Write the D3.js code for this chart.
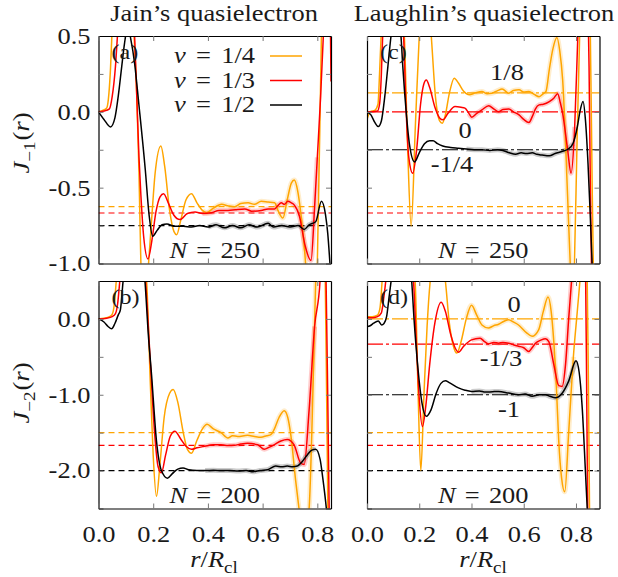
<!DOCTYPE html>
<html>
<head>
<meta charset="utf-8">
<script src="https://cdn.jsdelivr.net/npm/d3@7"></script>
<style>
  body { margin: 0; background: #fff; }
  text { font-family: "Liberation Serif", "DejaVu Serif", serif; fill: #1a1a1a; }
</style>
</head>
<body>
<svg id="chart" width="618" height="577"></svg>
<script>

// ---- values ---------------------------------------------------------------

var nuLabels = ["1/4", "1/3", "1/2"];
var xTicks = [0, 0.2, 0.4, 0.6, 0.8];
var yTicksJ1 = [-1, -0.75, -0.5, -0.25, 0, 0.25, 0.5];
var yLabelsJ1 = [-1, -0.5, 0, 0.5];
var yTicksJ2 = [-2.5, -2, -1.5, -1, -0.5, 0, 0.5];
var yLabelsJ2 = [-2, -1, 0];

// (a) Jain, J_-1(r), N = 250   -- [r/Rcl, J]
var jainJ1_q4 = [[0,0],[0.015,0.01],[0.03,0.025],[0.038,0.12],[0.044,0.29],[0.05,0.55],[0.07,1.0],[0.1,1.1],[0.12,0.8],[0.13,0.5],[0.14,0.1],[0.148,-0.4],[0.155,-1.0],[0.168,-1.35],[0.183,-1.0],[0.195,-0.69],[0.207,-0.405],[0.228,-0.225],[0.242,-0.36],[0.26,-0.65],[0.276,-0.79],[0.286,-0.81],[0.3,-0.72],[0.32,-0.58],[0.34,-0.54],[0.36,-0.6],[0.38,-0.65],[0.395,-0.665],[0.42,-0.635],[0.45,-0.61],[0.475,-0.62],[0.498,-0.625],[0.52,-0.605],[0.547,-0.6],[0.57,-0.61],[0.595,-0.59],[0.62,-0.595],[0.644,-0.6],[0.656,-0.65],[0.674,-0.7],[0.69,-0.58],[0.705,-0.47],[0.716,-0.45],[0.728,-0.52],[0.741,-0.69],[0.757,-1.0],[0.778,-1.8],[0.8,-1.0],[0.815,0.5],[0.83,1.8],[0.85,2.5]];
var jainJ1_q3 = [[0,0],[0.02,0.005],[0.04,0.02],[0.05,0.1],[0.062,0.3],[0.07,0.52],[0.09,0.95],[0.11,1.0],[0.125,0.7],[0.132,0.5],[0.14,0.1],[0.148,-0.3],[0.155,-0.55],[0.165,-0.82],[0.181,-0.97],[0.195,-0.85],[0.21,-0.66],[0.225,-0.56],[0.238,-0.54],[0.255,-0.6],[0.275,-0.68],[0.298,-0.71],[0.325,-0.67],[0.353,-0.66],[0.38,-0.67],[0.413,-0.665],[0.44,-0.65],[0.474,-0.65],[0.5,-0.645],[0.535,-0.64],[0.56,-0.655],[0.595,-0.65],[0.62,-0.64],[0.644,-0.64],[0.655,-0.62],[0.668,-0.6],[0.68,-0.61],[0.692,-0.59],[0.705,-0.6],[0.716,-0.615],[0.735,-0.69],[0.755,-0.88],[0.777,-0.98],[0.79,-0.63],[0.8,-0.3],[0.812,0.1],[0.822,0.5],[0.835,1.1],[0.846,0.9],[0.85,0.2]];
var jainJ1_q2 = [[0,0],[0.02,-0.05],[0.044,-0.1],[0.06,-0.04],[0.072,0.1],[0.085,0.3],[0.095,0.45],[0.107,0.56],[0.118,0.48],[0.132,0.32],[0.147,0.06],[0.171,-0.38],[0.185,-0.68],[0.198,-0.82],[0.215,-0.78],[0.232,-0.745],[0.25,-0.74],[0.28,-0.755],[0.31,-0.755],[0.34,-0.76],[0.37,-0.75],[0.4,-0.76],[0.43,-0.745],[0.46,-0.765],[0.49,-0.75],[0.52,-0.765],[0.55,-0.745],[0.58,-0.76],[0.62,-0.735],[0.64,-0.76],[0.67,-0.75],[0.7,-0.76],[0.73,-0.75],[0.752,-0.775],[0.77,-0.745],[0.794,-0.725],[0.815,-0.59],[0.83,-0.68],[0.838,-0.8],[0.848,-1.05],[0.86,-1.4]];
var jainJ1Dashed = [-0.625, -0.667, -0.75];

// (c) Laughlin, J_-1(r), N = 250
var laughJ1_q4 = [[0,-0.05],[0.012,0.0],[0.03,0.01],[0.042,0.05],[0.048,0.25],[0.054,0.5],[0.075,1.0],[0.11,1.1],[0.135,0.7],[0.143,0.5],[0.155,-0.2],[0.169,-0.753],[0.185,-0.1],[0.2,0.5],[0.225,0.95],[0.246,0.5],[0.262,0.1],[0.278,-0.06],[0.288,-0.075],[0.3,-0.02],[0.315,0.12],[0.334,0.222],[0.35,0.19],[0.37,0.135],[0.391,0.112],[0.415,0.125],[0.44,0.134],[0.46,0.12],[0.478,0.123],[0.5,0.14],[0.517,0.15],[0.543,0.123],[0.56,0.14],[0.582,0.145],[0.6,0.13],[0.62,0.134],[0.64,0.115],[0.659,0.1],[0.675,0.12],[0.685,0.134],[0.698,0.28],[0.711,0.41],[0.727,0.49],[0.738,0.4],[0.749,0.21],[0.768,-0.56],[0.778,-1.0],[0.786,-1.2],[0.794,-1.0],[0.804,-0.2],[0.814,0.5],[0.835,1.3],[0.855,0.5],[0.862,-0.5],[0.868,-1.2]];
var laughJ1_q3 = [[0,0],[0.02,0.0],[0.04,0.005],[0.048,0.05],[0.055,0.25],[0.06,0.5],[0.08,0.9],[0.11,0.95],[0.13,0.7],[0.14,0.5],[0.15,0.0],[0.16,-0.3],[0.175,-0.405],[0.19,-0.25],[0.205,0.05],[0.217,0.18],[0.227,0.21],[0.24,0.16],[0.26,0.03],[0.278,-0.04],[0.291,-0.053],[0.31,-0.01],[0.337,0.035],[0.36,0.03],[0.375,0.024],[0.39,-0.01],[0.401,-0.035],[0.42,-0.01],[0.44,0.013],[0.466,0.04],[0.485,0.02],[0.504,0.0],[0.52,0.015],[0.543,0.018],[0.56,0.0],[0.582,-0.02],[0.6,-0.05],[0.62,-0.07],[0.633,-0.03],[0.645,0.02],[0.659,0.046],[0.675,0.05],[0.698,0.068],[0.715,0.09],[0.73,0.12],[0.74,0.06],[0.749,-0.01],[0.768,-0.25],[0.781,-0.405],[0.795,-0.1],[0.807,0.5],[0.825,1.4],[0.845,0.8],[0.85,0.3],[0.855,-0.5],[0.86,-1.1]];
var laughJ1_q2 = [[0,0],[0.015,-0.02],[0.03,-0.07],[0.043,-0.097],[0.055,-0.06],[0.068,0.1],[0.08,0.3],[0.092,0.5],[0.105,0.65],[0.12,0.62],[0.13,0.5],[0.137,0.3],[0.15,0.0],[0.163,-0.22],[0.182,-0.33],[0.2,-0.27],[0.22,-0.21],[0.24,-0.19],[0.253,-0.19],[0.27,-0.21],[0.29,-0.225],[0.32,-0.235],[0.35,-0.24],[0.38,-0.245],[0.41,-0.25],[0.44,-0.25],[0.47,-0.255],[0.5,-0.25],[0.52,-0.255],[0.545,-0.27],[0.569,-0.28],[0.59,-0.27],[0.61,-0.275],[0.633,-0.27],[0.65,-0.28],[0.67,-0.285],[0.698,-0.29],[0.72,-0.275],[0.749,-0.26],[0.77,-0.245],[0.788,-0.21],[0.805,-0.1],[0.815,0.0],[0.827,0.068],[0.836,-0.05],[0.846,-0.34],[0.855,-0.7],[0.863,-1.05],[0.875,-1.5]];
var laughJ1Dashed = [-0.625, -0.667, -0.75];
var laughJ1DashDot = [0.125, 0, -0.25];
var laughJ1Notes = ["1/8", "0", "-1/4"];

// (b) Jain, J_-2(r), N = 200
var jainJ2_q4 = [[0,0],[0.02,0.01],[0.04,0.03],[0.05,0.06],[0.058,0.2],[0.065,0.5],[0.1,1.5],[0.15,1.3],[0.176,0.5],[0.19,-0.9],[0.2,-1.8],[0.212,-2.34],[0.225,-1.9],[0.24,-1.3],[0.26,-0.98],[0.273,-0.93],[0.29,-1.1],[0.31,-1.5],[0.325,-1.72],[0.34,-1.77],[0.36,-1.6],[0.38,-1.45],[0.397,-1.39],[0.42,-1.45],[0.448,-1.5],[0.473,-1.57],[0.49,-1.54],[0.509,-1.55],[0.545,-1.535],[0.57,-1.55],[0.594,-1.56],[0.615,-1.54],[0.63,-1.526],[0.642,-1.46],[0.66,-1.3],[0.679,-1.21],[0.692,-1.3],[0.703,-1.53],[0.721,-2.14],[0.733,-2.5],[0.75,-3.0],[0.77,-2.5],[0.785,-0.8],[0.794,0.5],[0.815,1.8],[0.829,0.5],[0.834,-1.0],[0.84,-3.0]];
var jainJ2_q3 = [[0,0],[0.03,0.01],[0.05,0.03],[0.062,0.07],[0.07,0.2],[0.078,0.5],[0.11,1.4],[0.15,1.2],[0.172,0.5],[0.19,-0.6],[0.205,-1.5],[0.218,-1.95],[0.23,-2.03],[0.245,-1.8],[0.262,-1.55],[0.279,-1.48],[0.3,-1.58],[0.32,-1.68],[0.34,-1.72],[0.36,-1.7],[0.388,-1.68],[0.42,-1.66],[0.448,-1.66],[0.475,-1.67],[0.497,-1.667],[0.52,-1.65],[0.545,-1.64],[0.582,-1.66],[0.606,-1.72],[0.625,-1.69],[0.642,-1.66],[0.667,-1.61],[0.69,-1.59],[0.715,-1.66],[0.739,-1.9],[0.752,-1.92],[0.77,-1.2],[0.79,-0.1],[0.81,0.5],[0.822,1.5],[0.832,0.5],[0.838,-1.0],[0.845,-3.0]];
var jainJ2_q2 = [[0,0],[0.02,-0.04],[0.035,-0.1],[0.048,-0.13],[0.06,-0.06],[0.072,0.05],[0.08,0.12],[0.09,0.5],[0.12,1.3],[0.155,1.0],[0.17,0.49],[0.182,-0.2],[0.194,-0.74],[0.212,-1.61],[0.23,-2.0],[0.252,-2.1],[0.27,-2.04],[0.29,-1.98],[0.309,-1.965],[0.33,-1.99],[0.36,-2.0],[0.39,-2.0],[0.42,-1.995],[0.45,-2.0],[0.48,-2.0],[0.51,-2.005],[0.54,-2.0],[0.565,-2.015],[0.59,-2.0],[0.618,-1.99],[0.648,-1.94],[0.67,-1.95],[0.69,-1.94],[0.71,-1.95],[0.727,-1.94],[0.745,-1.88],[0.764,-1.79],[0.78,-1.73],[0.794,-1.72],[0.81,-1.85],[0.82,-2.1],[0.833,-2.5],[0.845,-3.0]];
var jainJ2Dashed = [-1.5, -1.667, -2];

// (d) Laughlin, J_-2(r), N = 200
var laughJ2_q4 = [[0,0.03],[0.02,0.03],[0.04,0.05],[0.05,0.15],[0.058,0.5],[0.09,1.4],[0.14,1.3],[0.184,0.5],[0.195,-0.9],[0.206,-2.0],[0.218,-1.0],[0.23,-0.1],[0.242,0.5],[0.27,1.0],[0.3,0.5],[0.315,-0.05],[0.33,-0.35],[0.344,-0.45],[0.36,-0.3],[0.38,0.0],[0.4,0.18],[0.42,0.05],[0.44,-0.08],[0.465,-0.12],[0.485,-0.09],[0.504,-0.07],[0.525,-0.03],[0.542,-0.01],[0.56,-0.04],[0.58,-0.08],[0.61,-0.18],[0.632,-0.23],[0.657,-0.145],[0.675,0.1],[0.693,0.29],[0.705,0.1],[0.715,-0.3],[0.725,-0.9],[0.734,-1.61],[0.745,-2.1],[0.757,-2.28],[0.772,-1.5],[0.79,-0.5],[0.805,0.1],[0.815,0.5],[0.83,1.3],[0.843,0.5],[0.848,-1.0],[0.852,-2.6]];
var laughJ2_q3 = [[0,0.02],[0.02,0.015],[0.04,0.03],[0.055,0.08],[0.065,0.3],[0.072,0.5],[0.1,1.3],[0.14,1.4],[0.178,0.5],[0.19,-0.4],[0.2,-1.05],[0.212,-1.42],[0.225,-1.15],[0.24,-0.6],[0.26,-0.05],[0.284,0.22],[0.3,0.1],[0.32,-0.2],[0.34,-0.4],[0.35,-0.44],[0.37,-0.36],[0.4,-0.276],[0.433,-0.254],[0.45,-0.3],[0.465,-0.33],[0.485,-0.31],[0.504,-0.32],[0.52,-0.31],[0.542,-0.32],[0.56,-0.34],[0.58,-0.36],[0.6,-0.38],[0.619,-0.43],[0.632,-0.38],[0.645,-0.32],[0.665,-0.28],[0.683,-0.26],[0.696,-0.3],[0.715,-0.6],[0.734,-0.88],[0.747,-0.89],[0.76,-0.6],[0.772,0.0],[0.783,0.5],[0.81,2.0],[0.837,0.5],[0.841,-1.0],[0.845,-2.6]];
var laughJ2_q2 = [[0,-0.1],[0.012,-0.09],[0.025,-0.057],[0.043,-0.026],[0.056,-0.08],[0.065,-0.06],[0.075,0.03],[0.085,0.3],[0.1,0.7],[0.13,1.3],[0.16,0.8],[0.171,0.5],[0.18,0.0],[0.195,-0.65],[0.21,-1.1],[0.227,-1.285],[0.245,-1.2],[0.265,-0.98],[0.283,-0.85],[0.3,-0.816],[0.315,-0.84],[0.35,-0.91],[0.375,-0.94],[0.4,-0.956],[0.43,-0.95],[0.453,-0.965],[0.48,-0.96],[0.504,-0.956],[0.542,-0.978],[0.58,-1.0],[0.605,-0.99],[0.632,-1.02],[0.66,-1.0],[0.683,-1.0],[0.7,-1.02],[0.721,-1.04],[0.747,-0.98],[0.772,-0.82],[0.8,-0.553],[0.812,-0.7],[0.824,-1.18],[0.836,-2.0],[0.843,-2.5],[0.855,-3.2]];
var laughJ2Dashed = [-1.5, -1.667, -2];
var laughJ2DashDot = [0, -0.333, -1];
var laughJ2Notes = ["0", "-1/3", "-1"];

// ---- layout -----------------------------------------------------------------

var SX = 1.15;   // the glyphs in the original are set wider than the font is
var colors = ["#ffa500", "#ff0000", "#000000"];
var fmt = function(v) { return (v < 0 ? "-" : "") + Math.abs(v).toFixed(1); };

var svg = d3.select("#chart");

function mtext(parent, x, y, parts, size, anchor, rotate) {
  var t = parent.append("text")
      .attr("transform", "translate(" + x + "," + y + ")" + (rotate ? " rotate(-90)" : "") + " scale(" + SX + ",1)")
      .attr("text-anchor", anchor || "middle")
      .attr("font-size", size);
  var shift = 0;
  parts.forEach(function(p) {
    var s = t.append("tspan").text(p.t);
    if (p.it) s.attr("font-style", "italic");
    if (p.dx) s.attr("dx", p.dx);
    var want = p.sub ? size * 0.28 : 0;
    if (want !== shift) { s.attr("dy", want - shift); shift = want; }
    if (p.sub) s.attr("font-size", size * 0.72);
  });
  return t;
}

var panels = [
  {key: "a", left: 98.5, top: 36, xMax: 0.85, yDom: [-1, 0.5], yt: yTicksJ1, yl: yLabelsJ1, leftLabels: true, bottomLabels: false,
   series: [jainJ1_q4, jainJ1_q3, jainJ1_q2], dashed: jainJ1Dashed, N: "250"},
  {key: "c", left: 367, top: 36, xMax: 0.89, yDom: [-1, 0.5], yt: yTicksJ1, yl: yLabelsJ1, leftLabels: false, bottomLabels: false,
   series: [laughJ1_q4, laughJ1_q3, laughJ1_q2], dashed: laughJ1Dashed, dashdot: laughJ1DashDot, N: "250",
   notes: laughJ1Notes, notePos: [[507, 80], [465, 138], [452, 172]]},
  {key: "b", left: 98.5, top: 281, xMax: 0.85, yDom: [-2.5, 0.5], yt: yTicksJ2, yl: yLabelsJ2, leftLabels: true, bottomLabels: true,
   series: [jainJ2_q4, jainJ2_q3, jainJ2_q2], dashed: jainJ2Dashed, N: "200"},
  {key: "d", left: 367, top: 281, xMax: 0.89, yDom: [-2.5, 0.5], yt: yTicksJ2, yl: yLabelsJ2, leftLabels: false, bottomLabels: true,
   series: [laughJ2_q4, laughJ2_q3, laughJ2_q2], dashed: laughJ2Dashed, dashdot: laughJ2DashDot, N: "200",
   notes: laughJ2Notes, notePos: [[514, 312], [501, 366], [509, 417]]}
];
var PW = 232.5, PH = 227.5;

panels.forEach(function(p) {
  var x = d3.scaleLinear().domain([0, p.xMax]).range([0, PW]);
  var y = d3.scaleLinear().domain(p.yDom).range([PH, 0]);
  var g = svg.append("g").attr("transform", "translate(" + p.left + "," + p.top + ")");

  g.append("clipPath").attr("id", "clip-" + p.key)
    .append("rect").attr("width", PW).attr("height", PH);
  var plot = g.append("g").attr("clip-path", "url(#clip-" + p.key + ")");

  // theory levels
  p.dashed.forEach(function(v, i) {
    plot.append("line").attr("x1", 0).attr("x2", PW).attr("y1", y(v)).attr("y2", y(v))
      .attr("stroke", colors[i]).attr("stroke-width", 1.2).attr("stroke-dasharray", "6,4");
  });
  if (p.dashdot) p.dashdot.forEach(function(v, i) {
    plot.append("line").attr("x1", 0).attr("x2", PW).attr("y1", y(v)).attr("y2", y(v))
      .attr("stroke", colors[i]).attr("stroke-width", 1.2).attr("stroke-dasharray", "16,3,3,3");
  });

  var line = d3.line()
      .x(function(d) { return x(d[0]); })
      .y(function(d) { return y(d[1]); })
      .curve(d3.curveMonotoneX);

  // statistical error band (light halo in the noisy part)
  p.series.forEach(function(s, i) {
    plot.append("path")
      .datum(s.filter(function(d) { return d[0] >= 0.38 && d[0] <= 0.8; }))
      .attr("d", line).attr("fill", "none")
      .attr("stroke", colors[i]).attr("stroke-opacity", 0.2).attr("stroke-width", 5);
  });
  p.series.forEach(function(s, i) {
    plot.append("path").datum(s)
      .attr("d", line).attr("fill", "none")
      .attr("stroke", colors[i]).attr("stroke-width", 1.5);
  });

  // frame and ticks (inside, mirrored)
  var axes = [
    g.append("g").call(d3.axisLeft(y).tickValues(p.yt).tickSize(-5).tickSizeOuter(0).tickPadding(7)
      .tickFormat(function(v) { return p.leftLabels && p.yl.indexOf(v) >= 0 ? fmt(v) : ""; })),
    g.append("g").attr("transform", "translate(" + PW + ",0)")
      .call(d3.axisRight(y).tickValues(p.yt).tickSize(-5).tickSizeOuter(0).tickFormat("")),
    g.append("g").call(d3.axisTop(x).tickValues(xTicks).tickSize(-5).tickSizeOuter(0).tickFormat("")),
    g.append("g").attr("transform", "translate(0," + PH + ")")
      .call(d3.axisBottom(x).tickValues(xTicks).tickSize(-5).tickSizeOuter(0).tickPadding(17)
        .tickFormat(function(v) { return p.bottomLabels ? fmt(v) : ""; }))
  ];
  axes.forEach(function(a) {
    a.attr("font-family", null).attr("font-size", 23);
    a.select(".domain").attr("stroke", "#000").attr("stroke-width", 1.2);
    a.selectAll(".tick line").attr("stroke", "#777");
    a.selectAll(".tick text").attr("fill", "#1a1a1a").attr("transform", "scale(" + SX + ",1)");
  });

  mtext(g, 13, 23, [{t: "(" + p.key + ")"}], 21, "start");
  mtext(g, PW / 2, PH - 6, [{t: "N", it: true}, {t: "=", dx: 8}, {t: p.N, dx: 8}], 23);

  if (p.notes) p.notes.forEach(function(n, i) {
    mtext(svg, p.notePos[i][0], p.notePos[i][1], [{t: n}], 23);
  });
});

// legend in (a)
[63, 87.5, 112].forEach(function(yy, i) {
  mtext(svg, 255, yy, [{t: "ν", it: true}, {t: "=", dx: 9}, {t: nuLabels[i], dx: 9}], 23, "end");
  svg.append("line").attr("x1", 270).attr("x2", 302).attr("y1", yy - 7).attr("y2", yy - 7)
    .attr("stroke", colors[i]).attr("stroke-width", 1.5);
});

// titles and axis labels
mtext(svg, 214, 21, [{t: "Jain’s quasielectron"}], 23);
mtext(svg, 484, 21, [{t: "Laughlin’s quasielectron"}], 23);
mtext(svg, 29, 143, [{t: "J", it: true}, {t: "−1", sub: true}, {t: "(", dx: 1}, {t: "r", it: true}, {t: ")"}], 23, "middle", true);
mtext(svg, 29, 393, [{t: "J", it: true}, {t: "−2", sub: true}, {t: "(", dx: 1}, {t: "r", it: true}, {t: ")"}], 23, "middle", true);
mtext(svg, 214, 567, [{t: "r", it: true}, {t: "/"}, {t: "R", it: true}, {t: "cl", sub: true}], 23);
mtext(svg, 483, 567, [{t: "r", it: true}, {t: "/"}, {t: "R", it: true}, {t: "cl", sub: true}], 23);

</script>
</body>
</html>
